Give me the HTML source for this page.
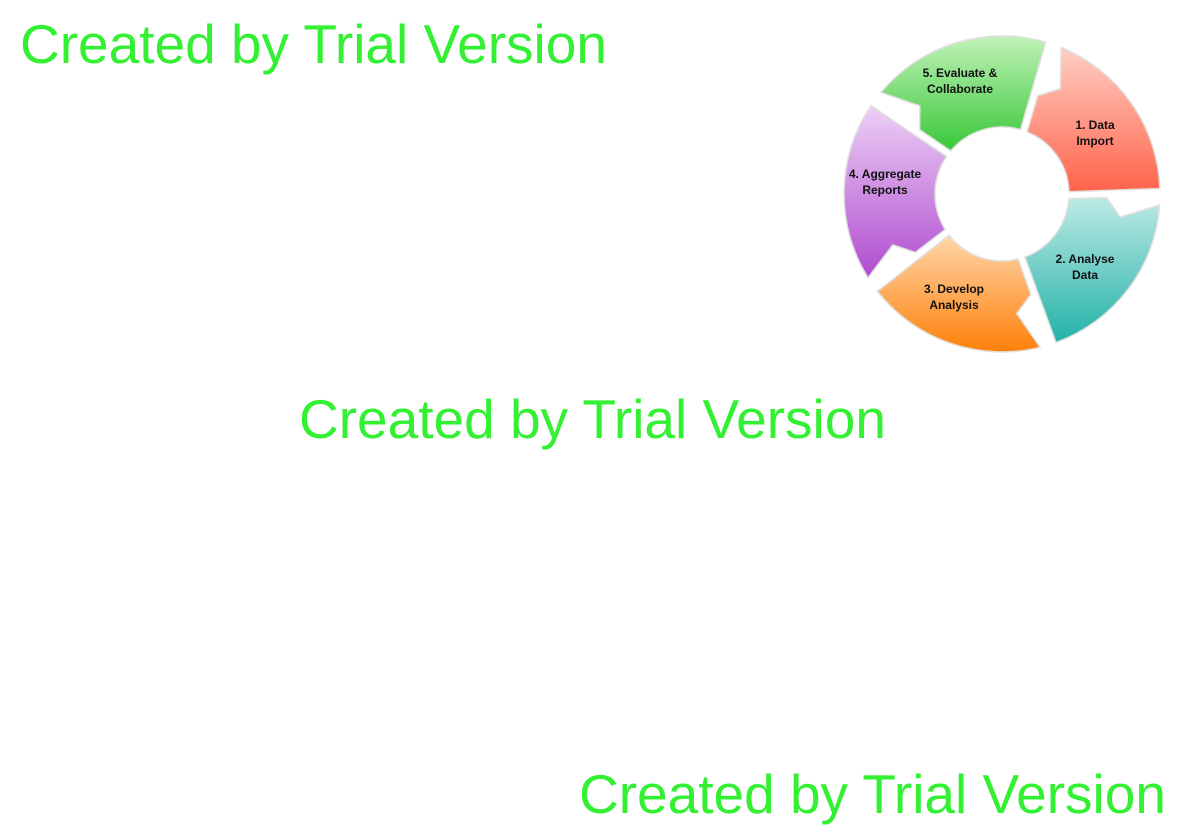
<!DOCTYPE html>
<html><head><meta charset="utf-8"><style>
html,body{margin:0;padding:0;background:#fff;width:1188px;height:840px;overflow:hidden;position:relative}
.wm{position:absolute;font-family:"Liberation Sans",sans-serif;font-size:55px;color:#33f033;white-space:nowrap;line-height:1}
svg{position:absolute;left:0;top:0}
text{font-family:"Liberation Sans",sans-serif;font-weight:bold;font-size:12px;fill:#111;text-anchor:middle}
</style></head><body>
<div class="wm" style="left:20px;top:17px">Created by Trial Version</div>
<div class="wm" style="left:299px;top:392px">Created by Trial Version</div>
<div class="wm" style="left:579px;top:767px">Created by Trial Version</div>
<svg width="1188" height="840" viewBox="0 0 1188 840">
<defs>
<linearGradient id="g0" x1="0" y1="0" x2="0" y2="1"><stop offset="0" stop-color="#ffcfc4"/><stop offset="1" stop-color="#ff634a"/></linearGradient>
<linearGradient id="g1" x1="0" y1="0" x2="0" y2="1"><stop offset="0" stop-color="#bde9e4"/><stop offset="1" stop-color="#22b2a8"/></linearGradient>
<linearGradient id="g2" x1="0" y1="0" x2="0" y2="1"><stop offset="0" stop-color="#ffd6aa"/><stop offset="1" stop-color="#ff800a"/></linearGradient>
<linearGradient id="g3" x1="0" y1="0" x2="0" y2="1"><stop offset="0" stop-color="#ecd0f4"/><stop offset="1" stop-color="#b04cd0"/></linearGradient>
<linearGradient id="g4" x1="0" y1="0" x2="0" y2="1"><stop offset="0" stop-color="#c0f2b8"/><stop offset="1" stop-color="#38c838"/></linearGradient>
</defs>
<g id="ring"></g>
<text x="1095" y="129">1. Data</text><text x="1095" y="145">Import</text>
<text x="1085" y="263">2. Analyse</text><text x="1085" y="279">Data</text>
<text x="954" y="293">3. Develop</text><text x="954" y="309">Analysis</text>
<text x="885" y="178">4. Aggregate</text><text x="885" y="194">Reports</text>
<text x="960" y="77">5. Evaluate &amp;</text><text x="960" y="93">Collaborate</text>
</svg>
<script>
(function(){
var cx=1002,cy=194,R=158,r=67,ns="http://www.w3.org/2000/svg",g=document.getElementById('ring');
function p(a,rad){var t=(a-90)*Math.PI/180;return (cx+rad*Math.cos(t)).toFixed(1)+","+(cy+rad*Math.sin(t)).toFixed(1);}
for(var k=0;k<5;k++){
 var a0=22+72*k,a1=a0+66,rm=(R+r)/2;
 var d="M"+p(a0,R)+" A"+R+","+R+" 0 0 1 "+p(a1,R)+" L"+p(a1,r)+" A"+r+","+r+" 0 0 0 "+p(a0,r)+
  " L"+p(a0-2,rm-8)+" L"+p(a0+7,rm+8)+" Z";
 var e=document.createElementNS(ns,"path");
 e.setAttribute("d",d);e.setAttribute("fill","url(#g"+k+")");
 e.setAttribute("stroke","#e0e0e0");e.setAttribute("stroke-width","1.5");
 g.appendChild(e);
}
})();
</script>
</body></html>
